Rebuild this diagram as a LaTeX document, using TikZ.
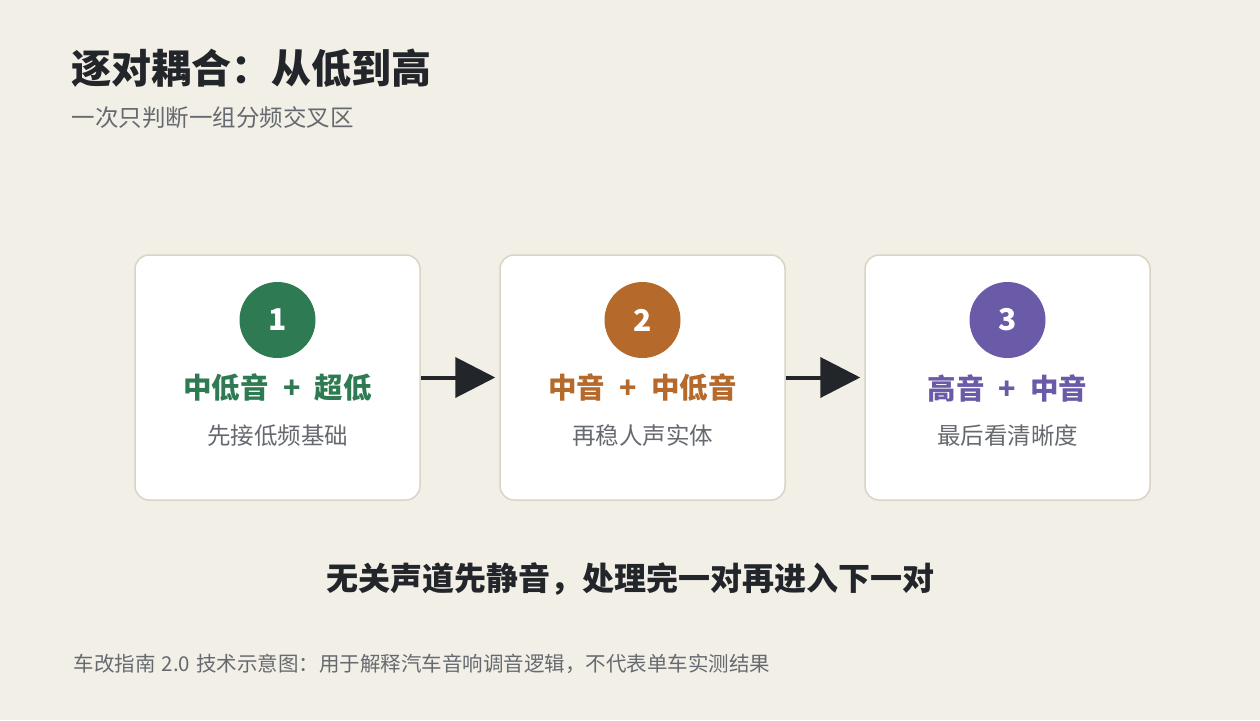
\documentclass[tikz,border=0pt]{standalone}
\usepackage{fontspec}
\setmainfont{Noto Sans CJK SC}
\usetikzlibrary{arrows.meta}
\definecolor{bg}{HTML}{F2EFE6}
\definecolor{ink}{HTML}{22252A}
\definecolor{gry}{HTML}{666A70}
\definecolor{bd}{HTML}{DAD4C6}
\definecolor{cg}{HTML}{2E7A52}
\definecolor{co}{HTML}{B5692A}
\definecolor{cp}{HTML}{6A5AA8}
\tikzset{
  card/.style={draw=bd,line width=1.5pt,fill=white,rounded corners=14pt,minimum width=285pt,minimum height=245pt},
  num/.style={circle,minimum size=76pt,inner sep=0pt,text=white,font=\fontsize{30}{30}\selectfont\bfseries},
  head/.style={font=\fontsize{28.5}{30}\selectfont\bfseries},
  sub/.style={text=gry,font=\fontsize{23.5}{26}\selectfont},
  flow/.style={draw=ink,line width=4pt,-{Triangle[length=40pt,width=40pt]}}
}
\begin{document}
\begin{tikzpicture}[x=1pt,y=-1pt]
\fill[bg] (0,0) rectangle (1260,720);
\useasboundingbox (0,0) rectangle (1260,720);
\node[anchor=west,text=ink,font=\fontsize{40}{42}\selectfont\bfseries] (t) at (68,68) {逐对耦合：从低到高};
\node[anchor=west,sub,font=\fontsize{23.5}{26}\selectfont] (st) at (68,118) {一次只判断一组分频交叉区};
\foreach \i/\x/\c/\h/\s in {1/277.5/cg/中低音\hspace{0.5em}+\hspace{0.5em}超低/先接低频基础, 2/642.5/co/中音\hspace{0.5em}+\hspace{0.5em}中低音/再稳人声实体, 3/1007.5/cp/高音\hspace{0.5em}+\hspace{0.5em}中音/最后看清晰度}{
  \node[card] (b\i) at (\x,377.5) {};
  \node[num,fill=\c] (n\i) at (\x,320) {\i};
  \node[head,text=\c] (h\i) at (\x,388) {\h};
  \node[sub] (s\i) at (\x,436) {\s};
}
\draw[flow] (b1.east) -- ([xshift=-4pt]b2.west);
\draw[flow] (b2.east) -- ([xshift=-4pt]b3.west);
\node[text=ink,font=\fontsize{32}{34}\selectfont\bfseries] (m) at (630,579) {无关声道先静音，处理完一对再进入下一对};
\node[anchor=west,text=gry,font=\fontsize{20.5}{22}\selectfont] (f) at (70,664) {车改指南\hspace{0.3em}2.0\hspace{0.3em}技术示意图：用于解释汽车音响调音逻辑，不代表单车实测结果};
\end{tikzpicture}
\end{document}
